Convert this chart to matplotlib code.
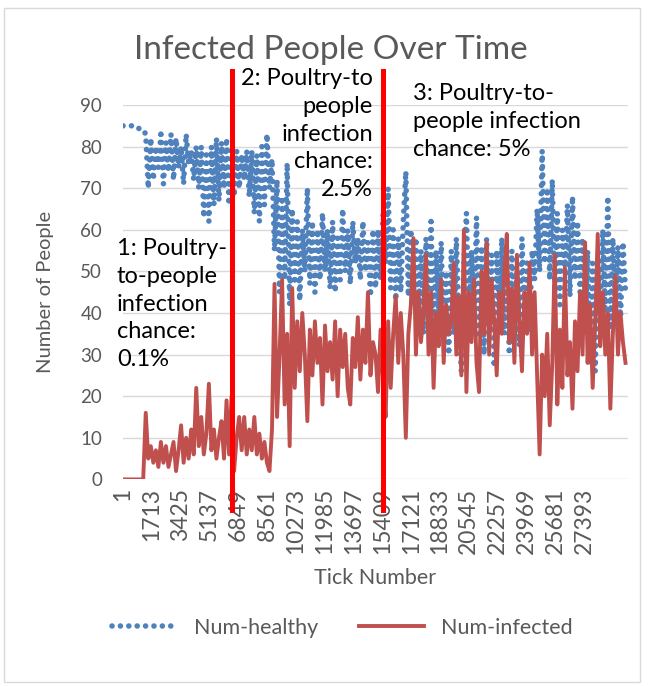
import numpy as np
import matplotlib
matplotlib.use("Agg")
import matplotlib.pyplot as plt
from matplotlib.lines import Line2D
from matplotlib.patches import Rectangle

plt.rcParams['font.family'] = ['Lato', 'DejaVu Sans']

# values, one value every 150 ticks
step = 150
healthy = [85, 85, 85, 85, 85, 85, 84.5, 84, 84, 83,
           70, 82, 72, 80, 75, 83, 71, 81, 74, 83,
           72, 82, 75, 80, 71, 83, 76, 79, 72, 80,
           70, 80, 63, 78, 62, 80, 66, 82, 67, 81,
           70, 82, 66, 80, 68, 79, 70, 78, 72, 79,
           68, 79, 64, 78, 62, 80, 66, 83, 70, 77,
           55, 72, 45, 68, 48, 76, 42, 65, 47, 62,
           43, 60, 50, 70, 47, 62, 45, 60, 48, 64,
           50, 60, 46, 62, 45, 58, 48, 65, 50, 60,
           47, 62, 52, 58, 48, 62, 50, 57, 44, 60,
           46, 60, 48, 64, 52, 70, 46, 60, 43, 58,
           45, 62, 74, 44, 60, 48, 58, 40, 55, 35,
           58, 38, 62, 33, 55, 40, 57, 36, 50, 30,
           55, 35, 58, 38, 26, 52, 64, 38, 55, 40,
           63, 35, 56, 30, 58, 38, 54, 27, 55, 40,
           58, 35, 52, 30, 55, 38, 50, 32, 58, 40,
           52, 36, 55, 48, 65, 50, 79, 52, 70, 48,
           72, 45, 64, 42, 60, 50, 66, 44, 68, 48,
           62, 45, 58, 35, 55, 28, 52, 26, 50, 38,
           60, 40, 68, 36, 58, 40, 56, 38, 57, 45]
infected = [0, 0, 0, 0, 0, 0, 0, 0, 0, 16,
            5, 8, 4, 7, 3, 9, 4, 8, 3, 6,
            9, 2, 7, 13, 4, 10, 5, 12, 6, 22,
            8, 15, 6, 11, 23, 7, 12, 5, 10, 14,
            5, 19, 6, 20, 2, 10, 15, 7, 15, 6,
            12, 7, 15, 6, 11, 5, 9, 4, 2, 12,
            47, 15, 30, 48, 18, 35, 8, 46, 22, 38,
            26, 40, 30, 14, 36, 25, 38, 28, 34, 18,
            37, 26, 33, 24, 38, 20, 36, 27, 35, 22,
            18, 34, 27, 39, 24, 36, 28, 45, 25, 33,
            30, 21, 36, 24, 15, 38, 22, 35, 44, 28,
            40, 30, 10, 35, 42, 58, 30, 45, 33, 40,
            54, 30, 45, 22, 40, 32, 48, 28, 42, 35,
            38, 52, 30, 44, 25, 60, 21, 45, 33, 48,
            28, 21, 50, 35, 57, 30, 48, 38, 25, 45,
            35, 50, 59, 33, 46, 28, 54, 38, 26, 45,
            35, 52, 30, 45, 25, 6, 30, 20, 35, 13,
            28, 54, 18, 36, 22, 51, 25, 33, 17, 38,
            26, 45, 30, 57, 28, 42, 22, 38, 59, 32,
            45, 30, 40, 17, 35, 49, 30, 40, 33, 28]
tick_labels = [1 + 1712 * k for k in range(17)]
phase_ticks = [6500, 15450]

ticks = np.arange(len(healthy)) * step + 1

fig = plt.figure(figsize=(6.52, 6.86), dpi=100)
ax = fig.add_axes([123 / 652, 1 - 479.4 / 686, 505 / 652, 374.4 / 686])

dotted = (0, (0.01, 1.5))
ax.plot(ticks, healthy, color='#4F81BD', lw=4, linestyle=dotted,
        dash_capstyle='round', zorder=2)
ax.plot(ticks, infected, color='#C0504D', lw=2.8, zorder=3)

for t in phase_ticks:
    ax.add_line(Line2D([t, t], [-0.082, 1.091], transform=ax.get_xaxis_transform(),
                       color='#FF0000', lw=3.6, clip_on=False, zorder=5))

ax.set_xlim(0, 30000)
ax.set_ylim(0, 90)
ax.set_yticks(range(0, 91, 10))
ax.set_xticks(tick_labels)
ax.set_xticklabels([str(t) for t in tick_labels], rotation=90)
ax.tick_params(length=0, colors='#595959')
ax.tick_params(axis='x', labelsize=16.5, pad=6)
ax.tick_params(axis='y', labelsize=13.5, pad=15)
ax.grid(axis='y', color='#D9D9D9', lw=1)
ax.set_axisbelow(True)
for s in ax.spines.values():
    s.set_visible(False)

ax.set_ylabel('Number of People', fontsize=14.5, color='#595959', labelpad=19)
ax.set_xlabel('Tick Number', fontsize=15.5, color='#595959', labelpad=10)
fig.text(0.507, 1 - 50 / 686, 'Infected People Over Time', fontsize=24,
         color='#595959', ha='center', va='center')

ann = dict(fontsize=17, va='top', linespacing=1.4, zorder=6)
ax.text(-0.012, 0.645, '1: Poultry-\nto-people\ninfection\nchance:\n0.1%',
        transform=ax.transAxes, ha='left', **ann)
ax.text(0.495, 1.099, '2: Poultry-to\npeople\ninfection\nchance:\n2.5%',
        transform=ax.transAxes, ha='right', multialignment='right', **ann)
ax.text(0.574, 1.059, '3: Poultry-to-\npeople infection\nchance: 5%',
        transform=ax.transAxes, ha='left', **ann)

handles = [Line2D([], [], color='#4F81BD', lw=4, linestyle=dotted, dash_capstyle='round'),
           Line2D([], [], color='#C0504D', lw=2.8)]
fig.legend(handles, ['Num-healthy', 'Num-infected'], loc='center',
           bbox_to_anchor=(0.525, 1 - 628 / 686), ncol=2, frameon=False,
           fontsize=15.5, handlelength=3.0, columnspacing=1.9, labelcolor='#595959')

fig.add_artist(Rectangle((4 / 652, 4 / 686), 636 / 652, 674 / 686, transform=fig.transFigure,
                         fill=False, edgecolor='#D9D9D9', lw=1))

fig.savefig('out.png', dpi=100)
